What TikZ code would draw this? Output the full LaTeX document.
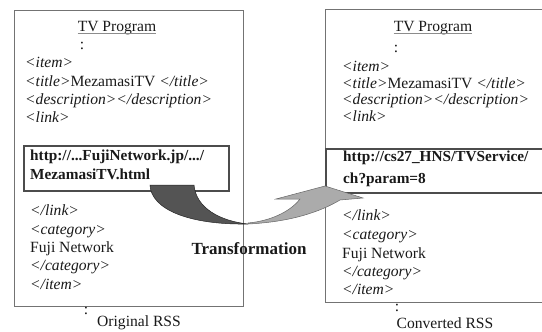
\documentclass[tikz,border=0pt]{standalone}
\usepackage{fontspec}
\setmainfont{Liberation Serif}
\begin{document}
\begin{tikzpicture}[x=1pt,y=-1pt,
  base/.style={inner sep=0pt, text=black!90, font=\fontsize{15.6}{18}\selectfont},
  ctr/.style={base, anchor=center},
  txt/.style={base, anchor=mid west},
  tag/.style={base, anchor=mid west, font=\fontsize{15.6}{18}\selectfont\itshape},
  url/.style={base, anchor=mid west, font=\fontsize{15.3}{18}\selectfont\bfseries},
  outerbox/.style={draw=black!55, line width=0.9pt, inner sep=0pt, anchor=north west},
  urlbox/.style={draw=black!70, line width=2pt, inner sep=0pt, anchor=north west},
  darkarrow/.style={fill=black!67, draw=black!85, line width=0.5pt},
  lightarrow/.style={fill=black!33, draw=black!60, line width=0.5pt},
  uline/.style={draw=black!45, line width=0.6pt}]
\useasboundingbox (0,0) rectangle (542,332);
% boxes
\node[outerbox, minimum width=229, minimum height=296] (boxL) at (14,10) {};
\node[outerbox, minimum width=230, minimum height=293] (boxR) at (325,9) {};
\node[urlbox, fill=white, minimum width=205, minimum height=45] (urlL) at (23,145) {};
\node[urlbox, fill=white, minimum width=230, minimum height=44] (urlR) at (325,148) {};
% transformation arrow
\filldraw[darkarrow] (150,185) .. controls (151,209) and (188,225) .. (248,224)
  .. controls (220,221) and (196,208) .. (194,185) -- cycle;
\filldraw[lightarrow] (248,224) .. controls (290,222) and (320,212) .. (340,200)
  -- (363,198) -- (325,186) -- (276,199) -- (300,199)
  .. controls (290,212) and (270,221) .. (248,223) -- cycle;
% left texts
\node[ctr] (tvL) at (117,28) {TV Program};
\draw[uline] ([yshift=-2pt]tvL.base west) -- ([yshift=-2pt]tvL.base east);
\node[ctr] (dotL1) at (82,46) {:};
\node[tag] (itemL) at (25,65) {<item>};
\node[txt] (titleL) at (25,84) {{\itshape <title>}MezamasiTV {\itshape </title>}};
\node[tag] (descL) at (25,102) {<description></description>};
\node[tag] (linkL) at (25,120) {<link>};
\node[url] (u1L) at (30,158) {http://...FujiNetwork.jp/.../};
\node[url] (u2L) at (30,177) {MezamasiTV.html};
\node[tag] (elinkL) at (30,213) {</link>};
\node[tag] (catL) at (30,232) {<category>};
\node[txt] (fujiL) at (30,250) {Fuji Network};
\node[tag] (ecatL) at (30,268) {</category>};
\node[tag] (eitemL) at (30,287) {</item>};
\node[ctr] (dotL2) at (86,311) {:};
\node[ctr] (capL) at (139,323) {Original RSS};
% right texts
\node[ctr] (tvR) at (433,28) {TV Program};
\draw[uline] ([yshift=-2pt]tvR.base west) -- ([yshift=-2pt]tvR.base east);
\node[ctr] (dotR1) at (396,49) {:};
\node[tag] (itemR) at (342,69) {<item>};
\node[txt] (titleR) at (342,86) {{\itshape <title>}MezamasiTV {\itshape </title>}};
\node[tag] (descR) at (342,102) {<description></description>};
\node[tag] (linkR) at (342,119) {<link>};
\node[url] (u1R) at (343,159) {http://cs27\_HNS/TVService/};
\node[url] (u2R) at (343,181) {ch?param=8};
\node[tag] (elinkR) at (342,218) {</link>};
\node[tag] (catR) at (342,237) {<category>};
\node[txt] (fujiR) at (342,256) {Fuji Network};
\node[tag] (ecatR) at (342,274) {</category>};
\node[tag] (eitemR) at (342,292) {</item>};
\node[ctr] (dotR2) at (397,308) {:};
\node[ctr] (capR) at (445,323) {Converted RSS};
% label
\node[ctr, font=\fontsize{17}{20}\selectfont\bfseries] (trans) at (249,249) {Transformation};
\end{tikzpicture}
\end{document}
